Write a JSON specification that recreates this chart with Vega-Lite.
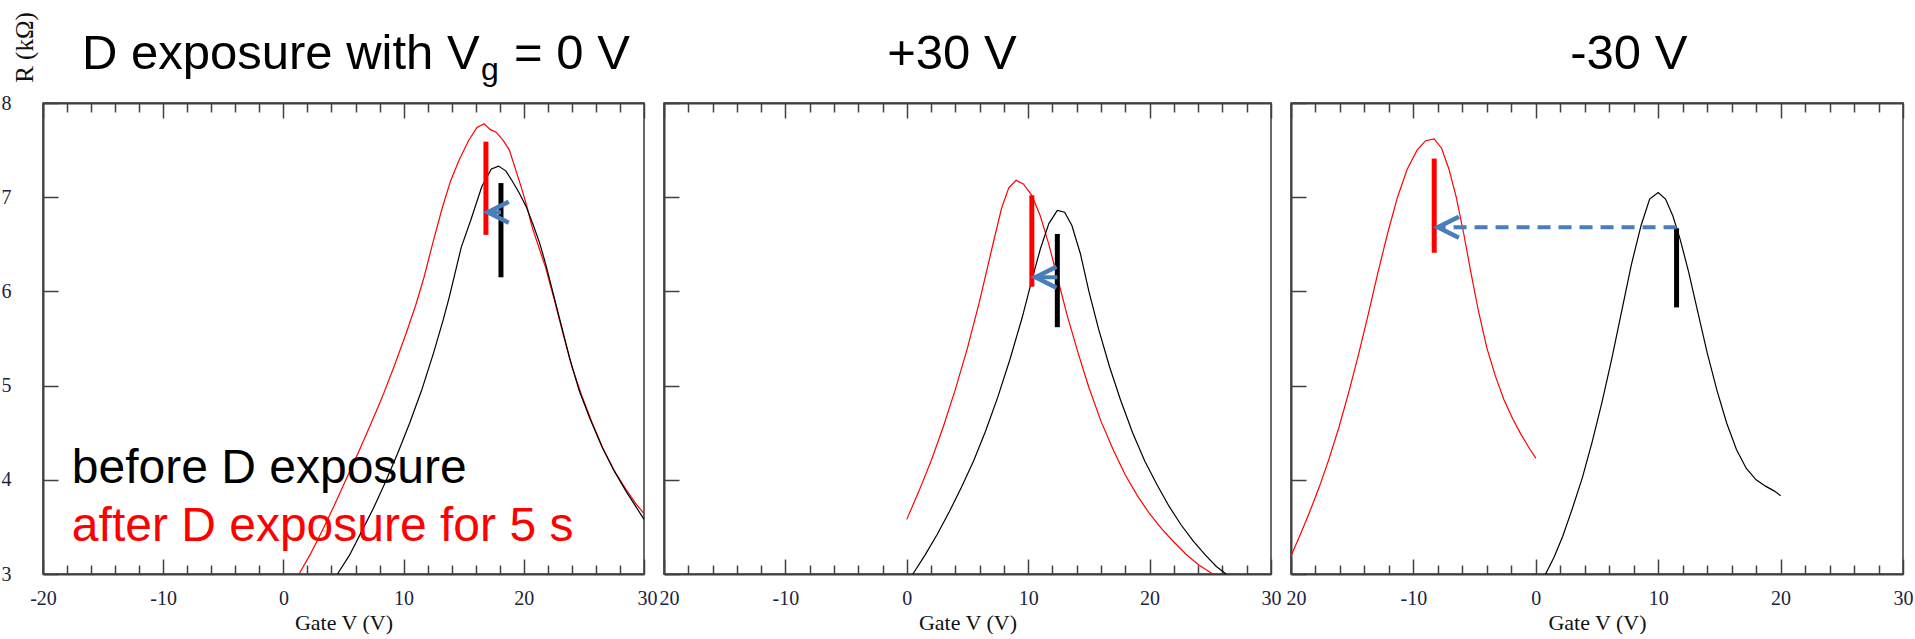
{
  "$schema": "https://vega.github.io/schema/vega-lite/v6.json",
  "background": "white",
  "padding": {"left": 0, "top": 10, "right": 0, "bottom": 0},
  "spacing": 20,
  "bounds": "flush",
  "config": {
    "view": {"stroke": "#3a3a3a", "strokeWidth": 1.5},
    "axis": {
      "grid": false,
      "domainColor": "#404040",
      "domainWidth": 2,
      "tickColor": "#404040",
      "tickWidth": 1.5,
      "labelFont": "Liberation Serif",
      "labelFontSize": 20,
      "labelColor": "#1c2340",
      "labelFlush": false,
      "labelOverlap": false,
      "titleFont": "Liberation Serif",
      "titleFontSize": 22,
      "titleFontWeight": "normal",
      "titleColor": "#111111"
    }
  },
  "datasets": {
    "curves": [
      {"panel": 1, "state": "after", "V": 1.3, "R": 3.0},
      {"panel": 1, "state": "after", "V": 2.2, "R": 3.2},
      {"panel": 1, "state": "after", "V": 3.2, "R": 3.45},
      {"panel": 1, "state": "after", "V": 4.2, "R": 3.72},
      {"panel": 1, "state": "after", "V": 5.2, "R": 4.0},
      {"panel": 1, "state": "after", "V": 6.2, "R": 4.28},
      {"panel": 1, "state": "after", "V": 7.2, "R": 4.57},
      {"panel": 1, "state": "after", "V": 8.2, "R": 4.87},
      {"panel": 1, "state": "after", "V": 9.2, "R": 5.2},
      {"panel": 1, "state": "after", "V": 10.2, "R": 5.55},
      {"panel": 1, "state": "after", "V": 11.0, "R": 5.85},
      {"panel": 1, "state": "after", "V": 11.7, "R": 6.15},
      {"panel": 1, "state": "after", "V": 12.4, "R": 6.5},
      {"panel": 1, "state": "after", "V": 13.2, "R": 6.88},
      {"panel": 1, "state": "after", "V": 13.9, "R": 7.17},
      {"panel": 1, "state": "after", "V": 14.6, "R": 7.39},
      {"panel": 1, "state": "after", "V": 15.4, "R": 7.6},
      {"panel": 1, "state": "after", "V": 16.1, "R": 7.74},
      {"panel": 1, "state": "after", "V": 16.7, "R": 7.78},
      {"panel": 1, "state": "after", "V": 17.2, "R": 7.72},
      {"panel": 1, "state": "after", "V": 17.7, "R": 7.69},
      {"panel": 1, "state": "after", "V": 18.3, "R": 7.6},
      {"panel": 1, "state": "after", "V": 18.8, "R": 7.5},
      {"panel": 1, "state": "after", "V": 19.3, "R": 7.3},
      {"panel": 1, "state": "after", "V": 19.85, "R": 7.08},
      {"panel": 1, "state": "after", "V": 20.3, "R": 6.88},
      {"panel": 1, "state": "after", "V": 20.7, "R": 6.68},
      {"panel": 1, "state": "after", "V": 21.3, "R": 6.45},
      {"panel": 1, "state": "after", "V": 21.8, "R": 6.26},
      {"panel": 1, "state": "after", "V": 22.5, "R": 5.93},
      {"panel": 1, "state": "after", "V": 23.2, "R": 5.58},
      {"panel": 1, "state": "after", "V": 24.0, "R": 5.2},
      {"panel": 1, "state": "after", "V": 24.8, "R": 4.9},
      {"panel": 1, "state": "after", "V": 25.7, "R": 4.6},
      {"panel": 1, "state": "after", "V": 26.6, "R": 4.33},
      {"panel": 1, "state": "after", "V": 27.5, "R": 4.1},
      {"panel": 1, "state": "after", "V": 28.5, "R": 3.9},
      {"panel": 1, "state": "after", "V": 29.3, "R": 3.75},
      {"panel": 1, "state": "after", "V": 30.0, "R": 3.64},
      {"panel": 1, "state": "before", "V": 4.5, "R": 3.0},
      {"panel": 1, "state": "before", "V": 5.5, "R": 3.2},
      {"panel": 1, "state": "before", "V": 6.5, "R": 3.45},
      {"panel": 1, "state": "before", "V": 7.5, "R": 3.7},
      {"panel": 1, "state": "before", "V": 8.5, "R": 3.98},
      {"panel": 1, "state": "before", "V": 9.5, "R": 4.28},
      {"panel": 1, "state": "before", "V": 10.5, "R": 4.6},
      {"panel": 1, "state": "before", "V": 11.5, "R": 4.95},
      {"panel": 1, "state": "before", "V": 12.5, "R": 5.35},
      {"panel": 1, "state": "before", "V": 13.3, "R": 5.7},
      {"panel": 1, "state": "before", "V": 13.8, "R": 5.94},
      {"panel": 1, "state": "before", "V": 14.8, "R": 6.47},
      {"panel": 1, "state": "before", "V": 15.6, "R": 6.76},
      {"panel": 1, "state": "before", "V": 16.5, "R": 7.11},
      {"panel": 1, "state": "before", "V": 17.3, "R": 7.3},
      {"panel": 1, "state": "before", "V": 17.9, "R": 7.33},
      {"panel": 1, "state": "before", "V": 18.5, "R": 7.28},
      {"panel": 1, "state": "before", "V": 19.0, "R": 7.18},
      {"panel": 1, "state": "before", "V": 19.6, "R": 7.05},
      {"panel": 1, "state": "before", "V": 20.2, "R": 6.9},
      {"panel": 1, "state": "before", "V": 20.8, "R": 6.7},
      {"panel": 1, "state": "before", "V": 21.3, "R": 6.52},
      {"panel": 1, "state": "before", "V": 21.8, "R": 6.3},
      {"panel": 1, "state": "before", "V": 22.3, "R": 6.05},
      {"panel": 1, "state": "before", "V": 23.0, "R": 5.7},
      {"panel": 1, "state": "before", "V": 23.8, "R": 5.3},
      {"panel": 1, "state": "before", "V": 24.6, "R": 4.95},
      {"panel": 1, "state": "before", "V": 25.5, "R": 4.65},
      {"panel": 1, "state": "before", "V": 26.5, "R": 4.35},
      {"panel": 1, "state": "before", "V": 27.5, "R": 4.1},
      {"panel": 1, "state": "before", "V": 28.5, "R": 3.88},
      {"panel": 1, "state": "before", "V": 29.3, "R": 3.72},
      {"panel": 1, "state": "before", "V": 30.0, "R": 3.58},

      {"panel": 2, "state": "after", "V": 0.0, "R": 3.58},
      {"panel": 2, "state": "after", "V": 1.0, "R": 3.88},
      {"panel": 2, "state": "after", "V": 2.0, "R": 4.2},
      {"panel": 2, "state": "after", "V": 3.0, "R": 4.56},
      {"panel": 2, "state": "after", "V": 4.0, "R": 4.96},
      {"panel": 2, "state": "after", "V": 5.0, "R": 5.4},
      {"panel": 2, "state": "after", "V": 6.0, "R": 5.9},
      {"panel": 2, "state": "after", "V": 7.0, "R": 6.45},
      {"panel": 2, "state": "after", "V": 7.8, "R": 6.88},
      {"panel": 2, "state": "after", "V": 8.4, "R": 7.1},
      {"panel": 2, "state": "after", "V": 9.0, "R": 7.18},
      {"panel": 2, "state": "after", "V": 9.6, "R": 7.14},
      {"panel": 2, "state": "after", "V": 10.3, "R": 7.02},
      {"panel": 2, "state": "after", "V": 11.0, "R": 6.8},
      {"panel": 2, "state": "after", "V": 11.7, "R": 6.5},
      {"panel": 2, "state": "after", "V": 12.4, "R": 6.15},
      {"panel": 2, "state": "after", "V": 13.2, "R": 5.75},
      {"panel": 2, "state": "after", "V": 14.1, "R": 5.35},
      {"panel": 2, "state": "after", "V": 15.0, "R": 4.98},
      {"panel": 2, "state": "after", "V": 16.0, "R": 4.62},
      {"panel": 2, "state": "after", "V": 17.0, "R": 4.32},
      {"panel": 2, "state": "after", "V": 18.0, "R": 4.05},
      {"panel": 2, "state": "after", "V": 19.0, "R": 3.83},
      {"panel": 2, "state": "after", "V": 20.0, "R": 3.64},
      {"panel": 2, "state": "after", "V": 21.0, "R": 3.48},
      {"panel": 2, "state": "after", "V": 22.0, "R": 3.34},
      {"panel": 2, "state": "after", "V": 23.0, "R": 3.21},
      {"panel": 2, "state": "after", "V": 24.0, "R": 3.1},
      {"panel": 2, "state": "after", "V": 25.2, "R": 3.0},
      {"panel": 2, "state": "before", "V": 0.5, "R": 3.0},
      {"panel": 2, "state": "before", "V": 1.5, "R": 3.2},
      {"panel": 2, "state": "before", "V": 2.5, "R": 3.42},
      {"panel": 2, "state": "before", "V": 3.5, "R": 3.66},
      {"panel": 2, "state": "before", "V": 4.5, "R": 3.92},
      {"panel": 2, "state": "before", "V": 5.5, "R": 4.2},
      {"panel": 2, "state": "before", "V": 6.5, "R": 4.52},
      {"panel": 2, "state": "before", "V": 7.5, "R": 4.88},
      {"panel": 2, "state": "before", "V": 8.5, "R": 5.28},
      {"panel": 2, "state": "before", "V": 9.5, "R": 5.72},
      {"panel": 2, "state": "before", "V": 10.3, "R": 6.12},
      {"panel": 2, "state": "before", "V": 11.0, "R": 6.45},
      {"panel": 2, "state": "before", "V": 11.7, "R": 6.72},
      {"panel": 2, "state": "before", "V": 12.4, "R": 6.86},
      {"panel": 2, "state": "before", "V": 13.0, "R": 6.84},
      {"panel": 2, "state": "before", "V": 13.6, "R": 6.7},
      {"panel": 2, "state": "before", "V": 14.3, "R": 6.4},
      {"panel": 2, "state": "before", "V": 15.0, "R": 6.0},
      {"panel": 2, "state": "before", "V": 15.8, "R": 5.6},
      {"panel": 2, "state": "before", "V": 16.7, "R": 5.2},
      {"panel": 2, "state": "before", "V": 17.6, "R": 4.85},
      {"panel": 2, "state": "before", "V": 18.6, "R": 4.5},
      {"panel": 2, "state": "before", "V": 19.6, "R": 4.2},
      {"panel": 2, "state": "before", "V": 20.6, "R": 3.95},
      {"panel": 2, "state": "before", "V": 21.6, "R": 3.72},
      {"panel": 2, "state": "before", "V": 22.6, "R": 3.52},
      {"panel": 2, "state": "before", "V": 23.6, "R": 3.35},
      {"panel": 2, "state": "before", "V": 24.6, "R": 3.2},
      {"panel": 2, "state": "before", "V": 25.5, "R": 3.08},
      {"panel": 2, "state": "before", "V": 26.3, "R": 3.0},

      {"panel": 3, "state": "after", "V": -20.0, "R": 3.19},
      {"panel": 3, "state": "after", "V": -19.3, "R": 3.4},
      {"panel": 3, "state": "after", "V": -18.5, "R": 3.65},
      {"panel": 3, "state": "after", "V": -17.7, "R": 3.92},
      {"panel": 3, "state": "after", "V": -16.9, "R": 4.22},
      {"panel": 3, "state": "after", "V": -16.1, "R": 4.55},
      {"panel": 3, "state": "after", "V": -15.3, "R": 4.92},
      {"panel": 3, "state": "after", "V": -14.5, "R": 5.32},
      {"panel": 3, "state": "after", "V": -13.7, "R": 5.75},
      {"panel": 3, "state": "after", "V": -12.9, "R": 6.2},
      {"panel": 3, "state": "after", "V": -12.1, "R": 6.62},
      {"panel": 3, "state": "after", "V": -11.3, "R": 7.0},
      {"panel": 3, "state": "after", "V": -10.5, "R": 7.3},
      {"panel": 3, "state": "after", "V": -9.7, "R": 7.5},
      {"panel": 3, "state": "after", "V": -9.0, "R": 7.6},
      {"panel": 3, "state": "after", "V": -8.3, "R": 7.62},
      {"panel": 3, "state": "after", "V": -7.7, "R": 7.52},
      {"panel": 3, "state": "after", "V": -7.1, "R": 7.3},
      {"panel": 3, "state": "after", "V": -6.5, "R": 7.0},
      {"panel": 3, "state": "after", "V": -5.9, "R": 6.62},
      {"panel": 3, "state": "after", "V": -5.3, "R": 6.2},
      {"panel": 3, "state": "after", "V": -4.7, "R": 5.8},
      {"panel": 3, "state": "after", "V": -4.0, "R": 5.4},
      {"panel": 3, "state": "after", "V": -3.3, "R": 5.1},
      {"panel": 3, "state": "after", "V": -2.6, "R": 4.85},
      {"panel": 3, "state": "after", "V": -1.9, "R": 4.65},
      {"panel": 3, "state": "after", "V": -1.2, "R": 4.48},
      {"panel": 3, "state": "after", "V": -0.5, "R": 4.33},
      {"panel": 3, "state": "after", "V": 0.0, "R": 4.23},
      {"panel": 3, "state": "before", "V": 0.8, "R": 3.0},
      {"panel": 3, "state": "before", "V": 1.5, "R": 3.18},
      {"panel": 3, "state": "before", "V": 2.2, "R": 3.4},
      {"panel": 3, "state": "before", "V": 3.0, "R": 3.7},
      {"panel": 3, "state": "before", "V": 3.8, "R": 4.02},
      {"panel": 3, "state": "before", "V": 4.6, "R": 4.4},
      {"panel": 3, "state": "before", "V": 5.4, "R": 4.82},
      {"panel": 3, "state": "before", "V": 6.2, "R": 5.28},
      {"panel": 3, "state": "before", "V": 7.0, "R": 5.78},
      {"panel": 3, "state": "before", "V": 7.8, "R": 6.28},
      {"panel": 3, "state": "before", "V": 8.6, "R": 6.7},
      {"panel": 3, "state": "before", "V": 9.3, "R": 6.98},
      {"panel": 3, "state": "before", "V": 10.0, "R": 7.05},
      {"panel": 3, "state": "before", "V": 10.6, "R": 6.98},
      {"panel": 3, "state": "before", "V": 11.2, "R": 6.8},
      {"panel": 3, "state": "before", "V": 11.8, "R": 6.55},
      {"panel": 3, "state": "before", "V": 12.5, "R": 6.2},
      {"panel": 3, "state": "before", "V": 13.2, "R": 5.8},
      {"panel": 3, "state": "before", "V": 14.0, "R": 5.35},
      {"panel": 3, "state": "before", "V": 14.8, "R": 4.95},
      {"panel": 3, "state": "before", "V": 15.6, "R": 4.6},
      {"panel": 3, "state": "before", "V": 16.4, "R": 4.32},
      {"panel": 3, "state": "before", "V": 17.2, "R": 4.12},
      {"panel": 3, "state": "before", "V": 18.0, "R": 4.0},
      {"panel": 3, "state": "before", "V": 18.8, "R": 3.93},
      {"panel": 3, "state": "before", "V": 19.5, "R": 3.88},
      {"panel": 3, "state": "before", "V": 20.0, "R": 3.83}
    ],
    "bars": [
      {"panel": 1, "state": "after", "V": 16.85, "R1": 7.59, "R2": 6.6},
      {"panel": 1, "state": "before", "V": 18.1, "R1": 7.15, "R2": 6.15},
      {"panel": 2, "state": "after", "V": 10.3, "R1": 7.02, "R2": 6.05},
      {"panel": 2, "state": "before", "V": 12.4, "R1": 6.61, "R2": 5.62},
      {"panel": 3, "state": "after", "V": -8.3, "R1": 7.41, "R2": 6.41},
      {"panel": 3, "state": "before", "V": 11.5, "R1": 6.67, "R2": 5.83}
    ],
    "arrows": [
      {"panel": 1, "from": 18.1, "to": 17.0, "R": 6.84},
      {"panel": 2, "from": 12.4, "to": 10.6, "R": 6.15},
      {"panel": 3, "from": 11.5, "to": -8.0, "R": 6.68}
    ],
    "notes": [
      {"panel": 1, "role": "title", "V": -16.76, "R": 8.36, "text": "D exposure with V"},
      {"panel": 1, "role": "sub", "V": 16.44, "R": 8.244, "text": "g"},
      {"panel": 1, "role": "title", "V": 19.19, "R": 8.36, "text": "= 0 V"},
      {"panel": 2, "role": "title", "V": 3.72, "R": 8.36, "text": "+30 V"},
      {"panel": 3, "role": "title", "V": 7.6, "R": 8.36, "text": "-30 V"},
      {"panel": 1, "role": "legend", "state": "before", "V": -17.6, "R": 3.97, "text": "before D exposure"},
      {"panel": 1, "role": "legend", "state": "after", "V": -17.6, "R": 3.35, "text": "after D exposure for 5 s"}
    ]
  },
  "hconcat": [
    {
      "width": 601,
      "height": 471,
      "resolve": {"axis": {"x": "independent", "y": "independent"}},
      "layer": [
        {
          "data": {"name": "curves"},
          "transform": [{"filter": "datum.panel === 1"}],
          "mark": {"type": "line", "strokeWidth": 1.2},
          "encoding": {
            "x": {"field": "V", "type": "quantitative", "scale": {"domain": [-20, 30], "nice": false, "zero": false},
              "axis": {"orient": "bottom", "values": [-20, -18, -16, -14, -12, -10, -8, -6, -4, -2, 0, 2, 4, 6, 8, 10, 12, 14, 16, 18, 20, 22, 24, 26, 28, 30],
                "tickSize": {"condition": {"test": "datum.value % 10 === 0", "value": -15}, "value": -9},
                "labelExpr": "datum.value % 10 === 0 ? toString(datum.value) : ''",
                "labelOffset": {"condition": {"test": "datum.value === 30", "value": 3}, "value": 0},
                "labelPadding": 29, "title": "Gate V (V)", "titlePadding": -2}},
            "y": {"field": "R", "type": "quantitative", "scale": {"domain": [3, 8], "nice": false, "zero": false},
              "axis": {"orient": "left", "values": [3, 4, 5, 6, 7, 8], "tickSize": -15, "labelPadding": 47, "title": "R (kΩ)", "titleFontSize": 25,
                "titleAngle": 270, "titleAlign": "center", "titleBaseline": "alphabetic", "titleX": -11, "titleY": -56}},
            "color": {"field": "state", "type": "nominal", "scale": {"domain": ["before", "after"], "range": ["#000000", "#ff0000"]}, "legend": null}
          }
        },
        {
          "data": {"name": "bars"},
          "transform": [{"filter": "datum.panel === 1"}],
          "mark": {"type": "rule", "strokeWidth": 5},
          "encoding": {
            "x": {"field": "V", "type": "quantitative", "scale": {"domain": [-20, 30], "nice": false, "zero": false},
              "axis": {"orient": "top", "values": [-20, -18, -16, -14, -12, -10, -8, -6, -4, -2, 0, 2, 4, 6, 8, 10, 12, 14, 16, 18, 20, 22, 24, 26, 28, 30],
                "tickSize": {"condition": {"test": "datum.value % 10 === 0", "value": -15}, "value": -9},
                "labels": false, "title": null}},
            "y": {"field": "R1", "type": "quantitative", "scale": {"domain": [3, 8], "nice": false, "zero": false}, "axis": null},
            "y2": {"field": "R2"},
            "color": {"field": "state", "type": "nominal", "scale": {"domain": ["before", "after"], "range": ["#000000", "#ff0000"]}, "legend": null}
          }
        },
        {
          "data": {"name": "arrows"},
          "transform": [{"filter": "datum.panel === 1"}],
          "mark": {"type": "rule", "strokeWidth": 4, "color": "#4a7ebb"},
          "encoding": {
            "x": {"field": "from", "type": "quantitative", "scale": {"domain": [-20, 30], "nice": false, "zero": false}, "axis": null},
            "x2": {"field": "to"},
            "y": {"field": "R", "type": "quantitative", "scale": {"domain": [3, 8], "nice": false, "zero": false}, "axis": null}
          }
        },
        {
          "data": {"name": "arrows"},
          "transform": [{"filter": "datum.panel === 1"}],
          "mark": {"type": "point", "shape": "M2,-1L0,0L2,1", "size": 441, "filled": false, "stroke": "#4a7ebb", "strokeWidth": 4.5, "opacity": 1},
          "encoding": {
            "x": {"field": "to", "type": "quantitative", "scale": {"domain": [-20, 30], "nice": false, "zero": false}, "axis": null},
            "y": {"field": "R", "type": "quantitative", "scale": {"domain": [3, 8], "nice": false, "zero": false}, "axis": null}
          }
        },
        {
          "data": {"name": "notes"},
          "transform": [{"filter": "datum.panel === 1 && datum.role === 'title'"}],
          "mark": {"type": "text", "font": "Liberation Sans", "fontSize": 49, "align": "left", "baseline": "alphabetic", "color": "#000000"},
          "encoding": {
            "x": {"field": "V", "type": "quantitative", "scale": {"domain": [-20, 30], "nice": false, "zero": false}, "axis": null},
            "y": {"field": "R", "type": "quantitative", "scale": {"domain": [3, 8], "nice": false, "zero": false}, "axis": null},
            "text": {"field": "text"}
          }
        },
        {
          "data": {"name": "notes"},
          "transform": [{"filter": "datum.panel === 1 && datum.role === 'sub'"}],
          "mark": {"type": "text", "font": "Liberation Sans", "fontSize": 32, "align": "left", "baseline": "alphabetic", "color": "#000000"},
          "encoding": {
            "x": {"field": "V", "type": "quantitative", "scale": {"domain": [-20, 30], "nice": false, "zero": false}, "axis": null},
            "y": {"field": "R", "type": "quantitative", "scale": {"domain": [3, 8], "nice": false, "zero": false}, "axis": null},
            "text": {"field": "text"}
          }
        },
        {
          "data": {"name": "notes"},
          "transform": [{"filter": "datum.panel === 1 && datum.role === 'legend'"}],
          "mark": {"type": "text", "font": "Liberation Sans", "fontSize": 48, "align": "left", "baseline": "alphabetic"},
          "encoding": {
            "x": {"field": "V", "type": "quantitative", "scale": {"domain": [-20, 30], "nice": false, "zero": false}, "axis": null},
            "y": {"field": "R", "type": "quantitative", "scale": {"domain": [3, 8], "nice": false, "zero": false}, "axis": null},
            "text": {"field": "text"},
            "color": {"field": "state", "type": "nominal", "scale": {"domain": ["before", "after"], "range": ["#000000", "#ff0000"]}, "legend": null}
          }
        }
      ]
    },
    {
      "width": 607,
      "height": 471,
      "resolve": {"axis": {"x": "independent", "y": "independent"}},
      "layer": [
        {
          "data": {"name": "curves"},
          "transform": [{"filter": "datum.panel === 2"}],
          "mark": {"type": "line", "strokeWidth": 1.2},
          "encoding": {
            "x": {"field": "V", "type": "quantitative", "scale": {"domain": [-20, 30], "nice": false, "zero": false},
              "axis": {"orient": "bottom", "values": [-20, -18, -16, -14, -12, -10, -8, -6, -4, -2, 0, 2, 4, 6, 8, 10, 12, 14, 16, 18, 20, 22, 24, 26, 28, 30],
                "tickSize": {"condition": {"test": "datum.value % 10 === 0", "value": -15}, "value": -9},
                "labelExpr": "datum.value === -20 ? '20' : (datum.value % 10 === 0 ? toString(datum.value) : '')",
                "labelAlign": {"condition": {"test": "datum.value === -20", "value": "left"}, "value": "center"},
                "labelOffset": {"condition": {"test": "datum.value === -20", "value": -5}, "value": 0},
                "labelPadding": 29, "title": "Gate V (V)", "titlePadding": -2}},
            "y": {"field": "R", "type": "quantitative", "scale": {"domain": [3, 8], "nice": false, "zero": false},
              "axis": {"orient": "left", "values": [3, 4, 5, 6, 7, 8], "tickSize": -15, "labels": false, "title": null}},
            "color": {"field": "state", "type": "nominal", "scale": {"domain": ["before", "after"], "range": ["#000000", "#ff0000"]}, "legend": null}
          }
        },
        {
          "data": {"name": "bars"},
          "transform": [{"filter": "datum.panel === 2"}],
          "mark": {"type": "rule", "strokeWidth": 5},
          "encoding": {
            "x": {"field": "V", "type": "quantitative", "scale": {"domain": [-20, 30], "nice": false, "zero": false},
              "axis": {"orient": "top", "values": [-20, -18, -16, -14, -12, -10, -8, -6, -4, -2, 0, 2, 4, 6, 8, 10, 12, 14, 16, 18, 20, 22, 24, 26, 28, 30],
                "tickSize": {"condition": {"test": "datum.value % 10 === 0", "value": -15}, "value": -9},
                "labels": false, "title": null}},
            "y": {"field": "R1", "type": "quantitative", "scale": {"domain": [3, 8], "nice": false, "zero": false}, "axis": null},
            "y2": {"field": "R2"},
            "color": {"field": "state", "type": "nominal", "scale": {"domain": ["before", "after"], "range": ["#000000", "#ff0000"]}, "legend": null}
          }
        },
        {
          "data": {"name": "arrows"},
          "transform": [{"filter": "datum.panel === 2"}],
          "mark": {"type": "rule", "strokeWidth": 4, "color": "#4a7ebb"},
          "encoding": {
            "x": {"field": "from", "type": "quantitative", "scale": {"domain": [-20, 30], "nice": false, "zero": false}, "axis": null},
            "x2": {"field": "to"},
            "y": {"field": "R", "type": "quantitative", "scale": {"domain": [3, 8], "nice": false, "zero": false}, "axis": null}
          }
        },
        {
          "data": {"name": "arrows"},
          "transform": [{"filter": "datum.panel === 2"}],
          "mark": {"type": "point", "shape": "M2,-1L0,0L2,1", "size": 441, "filled": false, "stroke": "#4a7ebb", "strokeWidth": 4.5, "opacity": 1},
          "encoding": {
            "x": {"field": "to", "type": "quantitative", "scale": {"domain": [-20, 30], "nice": false, "zero": false}, "axis": null},
            "y": {"field": "R", "type": "quantitative", "scale": {"domain": [3, 8], "nice": false, "zero": false}, "axis": null}
          }
        },
        {
          "data": {"name": "notes"},
          "transform": [{"filter": "datum.panel === 2"}],
          "mark": {"type": "text", "font": "Liberation Sans", "fontSize": 49, "align": "center", "baseline": "alphabetic", "color": "#000000"},
          "encoding": {
            "x": {"field": "V", "type": "quantitative", "scale": {"domain": [-20, 30], "nice": false, "zero": false}, "axis": null},
            "y": {"field": "R", "type": "quantitative", "scale": {"domain": [3, 8], "nice": false, "zero": false}, "axis": null},
            "text": {"field": "text"}
          }
        }
      ]
    },
    {
      "width": 612,
      "height": 471,
      "resolve": {"axis": {"x": "independent", "y": "independent"}},
      "layer": [
        {
          "data": {"name": "curves"},
          "transform": [{"filter": "datum.panel === 3"}],
          "mark": {"type": "line", "strokeWidth": 1.2},
          "encoding": {
            "x": {"field": "V", "type": "quantitative", "scale": {"domain": [-20, 30], "nice": false, "zero": false},
              "axis": {"orient": "bottom", "values": [-20, -18, -16, -14, -12, -10, -8, -6, -4, -2, 0, 2, 4, 6, 8, 10, 12, 14, 16, 18, 20, 22, 24, 26, 28, 30],
                "tickSize": {"condition": {"test": "datum.value % 10 === 0", "value": -15}, "value": -9},
                "labelExpr": "datum.value === -20 ? '20' : (datum.value % 10 === 0 ? toString(datum.value) : '')",
                "labelAlign": {"condition": {"test": "datum.value === -20", "value": "left"}, "value": "center"},
                "labelOffset": {"condition": {"test": "datum.value === -20", "value": -5}, "value": 0},
                "labelPadding": 29, "title": "Gate V (V)", "titlePadding": -2}},
            "y": {"field": "R", "type": "quantitative", "scale": {"domain": [3, 8], "nice": false, "zero": false},
              "axis": {"orient": "left", "values": [3, 4, 5, 6, 7, 8], "tickSize": -15, "labels": false, "title": null}},
            "color": {"field": "state", "type": "nominal", "scale": {"domain": ["before", "after"], "range": ["#000000", "#ff0000"]}, "legend": null}
          }
        },
        {
          "data": {"name": "bars"},
          "transform": [{"filter": "datum.panel === 3"}],
          "mark": {"type": "rule", "strokeWidth": 5},
          "encoding": {
            "x": {"field": "V", "type": "quantitative", "scale": {"domain": [-20, 30], "nice": false, "zero": false},
              "axis": {"orient": "top", "values": [-20, -18, -16, -14, -12, -10, -8, -6, -4, -2, 0, 2, 4, 6, 8, 10, 12, 14, 16, 18, 20, 22, 24, 26, 28, 30],
                "tickSize": {"condition": {"test": "datum.value % 10 === 0", "value": -15}, "value": -9},
                "labels": false, "title": null}},
            "y": {"field": "R1", "type": "quantitative", "scale": {"domain": [3, 8], "nice": false, "zero": false}, "axis": null},
            "y2": {"field": "R2"},
            "color": {"field": "state", "type": "nominal", "scale": {"domain": ["before", "after"], "range": ["#000000", "#ff0000"]}, "legend": null}
          }
        },
        {
          "data": {"name": "arrows"},
          "transform": [{"filter": "datum.panel === 3"}],
          "mark": {"type": "rule", "strokeWidth": 4, "strokeDash": [13, 8], "color": "#4a7ebb"},
          "encoding": {
            "x": {"field": "from", "type": "quantitative", "scale": {"domain": [-20, 30], "nice": false, "zero": false}, "axis": null},
            "x2": {"field": "to"},
            "y": {"field": "R", "type": "quantitative", "scale": {"domain": [3, 8], "nice": false, "zero": false}, "axis": null}
          }
        },
        {
          "data": {"name": "arrows"},
          "transform": [{"filter": "datum.panel === 3"}],
          "mark": {"type": "point", "shape": "M2,-1L0,0L2,1", "size": 441, "filled": false, "stroke": "#4a7ebb", "strokeWidth": 4.5, "opacity": 1},
          "encoding": {
            "x": {"field": "to", "type": "quantitative", "scale": {"domain": [-20, 30], "nice": false, "zero": false}, "axis": null},
            "y": {"field": "R", "type": "quantitative", "scale": {"domain": [3, 8], "nice": false, "zero": false}, "axis": null}
          }
        },
        {
          "data": {"name": "notes"},
          "transform": [{"filter": "datum.panel === 3"}],
          "mark": {"type": "text", "font": "Liberation Sans", "fontSize": 49, "align": "center", "baseline": "alphabetic", "color": "#000000"},
          "encoding": {
            "x": {"field": "V", "type": "quantitative", "scale": {"domain": [-20, 30], "nice": false, "zero": false}, "axis": null},
            "y": {"field": "R", "type": "quantitative", "scale": {"domain": [3, 8], "nice": false, "zero": false}, "axis": null},
            "text": {"field": "text"}
          }
        }
      ]
    }
  ]
}
